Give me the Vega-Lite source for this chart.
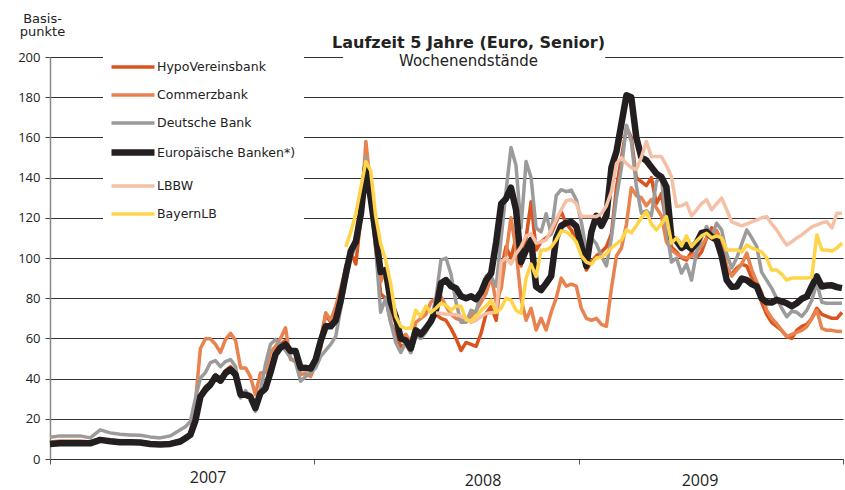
{
 "$schema": "https://vega.github.io/schema/vega-lite/v6.json",
 "width": 793,
 "height": 402,
 "autosize": {"type": "none"},
 "padding": {"left": 50, "top": 57, "right": 2, "bottom": 31},
 "background": "white",
 "title": {"text": "Laufzeit 5 Jahre (Euro, Senior)", "subtitle": "Wochenendstände", "anchor": "middle", "frame": "group", "dx": 22, "offset": -57, "font": "DejaVu Sans", "fontSize": 16, "fontWeight": "bold", "color": "#222", "subtitleFont": "DejaVu Sans", "subtitleFontSize": 15, "subtitleColor": "#222", "subtitlePadding": 3},
 "config": {
  "view": {"stroke": null},
  "font": "DejaVu Sans",
  "legend": {"orient": "none", "legendX": 53, "legendY": -18.5, "fillColor": "white", "padding": 8, "symbolType": "M-1.147,0H1.147", "symbolSize": 1406, "labelFont": "DejaVu Sans", "labelFontSize": 12.5, "labelColor": "#222", "labelOffset": 2, "rowPadding": 0}
 },
 "datasets": {
  "wide": [
   {"t":2007.000,"H":8,"C":8.5,"D":10.8,"E":7.5},
   {"t":2007.038,"H":8.5,"C":9,"D":11.5,"E":7.8},
   {"t":2007.076,"H":8.5,"C":9,"D":11.5,"E":7.8},
   {"t":2007.114,"H":8.5,"C":9,"D":11.5,"E":7.8},
   {"t":2007.152,"H":8.2,"C":8.5,"D":10.5,"E":7.8},
   {"t":2007.190,"H":9.5,"C":10,"D":14.5,"E":9.5},
   {"t":2007.228,"H":9,"C":9.3,"D":13,"E":8.8},
   {"t":2007.265,"H":8.5,"C":9,"D":12.3,"E":8.3},
   {"t":2007.303,"H":8.5,"C":8.8,"D":12,"E":8.3},
   {"t":2007.341,"H":8,"C":8.5,"D":11.8,"E":8.2},
   {"t":2007.379,"H":7.2,"C":7.8,"D":11,"E":7.5},
   {"t":2007.417,"H":7,"C":7.5,"D":10.5,"E":7.2},
   {"t":2007.455,"H":7.3,"C":8,"D":11.5,"E":7.5},
   {"t":2007.493,"H":8.5,"C":9.5,"D":14.5,"E":8.7},
   {"t":2007.512,"H":10,"C":10,"D":16,"E":10.3},
   {"t":2007.531,"H":12.5,"C":13,"D":18.7,"E":12},
   {"t":2007.550,"H":22,"C":28,"D":30,"E":19},
   {"t":2007.569,"H":32,"C":55,"D":40.3,"E":31},
   {"t":2007.588,"H":36,"C":59.8,"D":43,"E":34.5},
   {"t":2007.607,"H":38,"C":59.8,"D":48,"E":37},
   {"t":2007.626,"H":42,"C":57,"D":49,"E":41},
   {"t":2007.645,"H":40,"C":53,"D":46,"E":39},
   {"t":2007.664,"H":44,"C":59.5,"D":48.5,"E":42.8},
   {"t":2007.683,"H":46,"C":62.5,"D":49.5,"E":44.5},
   {"t":2007.702,"H":43,"C":59,"D":46,"E":42},
   {"t":2007.721,"H":33,"C":45.3,"D":30.3,"E":32},
   {"t":2007.740,"H":33,"C":45.3,"D":34,"E":32},
   {"t":2007.758,"H":32,"C":41,"D":30,"E":31},
   {"t":2007.777,"H":27,"C":32,"D":23.7,"E":25.3},
   {"t":2007.796,"H":34,"C":42.8,"D":34,"E":32.8},
   {"t":2007.815,"H":37,"C":43,"D":47,"E":35},
   {"t":2007.834,"H":45,"C":53,"D":57,"E":43},
   {"t":2007.853,"H":53,"C":56,"D":59.5,"E":52},
   {"t":2007.872,"H":57,"C":60,"D":56.5,"E":55.5},
   {"t":2007.891,"H":59,"C":65.3,"D":54,"E":57},
   {"t":2007.910,"H":54,"C":49.5,"D":50.3,"E":53.7},
   {"t":2007.929,"H":54,"C":49,"D":48,"E":53.7},
   {"t":2007.948,"H":46,"C":42,"D":38.7,"E":45.3},
   {"t":2007.967,"H":46,"C":42.5,"D":41,"E":45.3},
   {"t":2007.986,"H":45,"C":41,"D":43,"E":45},
   {"t":2008.005,"H":50,"C":47,"D":45.3,"E":49.5},
   {"t":2008.024,"H":60,"C":55,"D":51,"E":58.7},
   {"t":2008.043,"H":72,"C":72.8,"D":54,"E":66},
   {"t":2008.062,"H":68,"C":69,"D":57,"E":66},
   {"t":2008.081,"H":72,"C":76,"D":61,"E":69},
   {"t":2008.100,"H":82,"C":85,"D":75,"E":79},
   {"t":2008.119,"H":96,"C":95,"D":88,"E":92,"B":105.5},
   {"t":2008.138,"H":103,"C":105,"D":100,"E":103.5,"B":113},
   {"t":2008.157,"H":97,"C":110,"D":106,"E":108,"B":122},
   {"t":2008.176,"H":120,"C":120,"D":125,"E":122,"B":135},
   {"t":2008.195,"H":140,"C":158,"D":150,"E":145,"B":148},
   {"t":2008.213,"H":128,"C":135,"D":138,"E":130,"B":143.5},
   {"t":2008.232,"H":105,"C":110,"D":105,"E":112,"B":121},
   {"t":2008.251,"H":82,"C":88,"D":73,"E":93,"B":107},
   {"t":2008.270,"H":80,"C":95,"D":80,"E":94,"B":99},
   {"t":2008.289,"H":68,"C":72,"D":68,"E":78,"B":87},
   {"t":2008.308,"H":62,"C":68,"D":58,"E":70.8,"B":71},
   {"t":2008.327,"H":56,"C":60,"D":53,"E":60,"B":66},
   {"t":2008.346,"H":57,"C":62,"D":58,"E":59,"B":65},
   {"t":2008.365,"H":53,"C":58,"D":53,"E":55,"B":65},
   {"t":2008.384,"H":62,"C":68,"D":61,"E":64,"B":74},
   {"t":2008.403,"H":60,"C":70,"D":60,"E":62,"B":71},
   {"t":2008.422,"H":65,"C":72,"D":63,"E":65,"B":76},
   {"t":2008.441,"H":70,"C":78,"D":69,"E":68.5,"B":73},
   {"t":2008.460,"H":72,"C":80,"D":80,"E":74,"L":72.7,"B":75},
   {"t":2008.479,"H":70,"C":81,"D":99,"E":87.4,"L":72.5,"B":77.5},
   {"t":2008.498,"H":69,"C":76,"D":100,"E":89,"L":72,"B":76.5},
   {"t":2008.517,"H":65,"C":72,"D":92,"E":86,"L":72,"B":74},
   {"t":2008.536,"H":60,"C":70,"D":78,"E":85,"L":71.8,"B":76},
   {"t":2008.555,"H":54,"C":69,"D":68,"E":81,"L":71,"B":76},
   {"t":2008.574,"H":58,"C":69,"D":68,"E":80,"L":70,"B":69.2},
   {"t":2008.593,"H":57,"C":71,"D":74,"E":81,"L":68,"B":68.5},
   {"t":2008.612,"H":56,"C":74,"D":73,"E":79.5,"L":69,"B":71},
   {"t":2008.631,"H":62.6,"C":78,"D":84,"E":83,"L":71,"B":74},
   {"t":2008.650,"H":72.5,"C":82.4,"D":91,"E":89,"L":72.4,"B":76},
   {"t":2008.669,"H":75.8,"C":91,"D":90.7,"E":92.4,"L":72.8,"B":79},
   {"t":2008.688,"H":69,"C":78,"D":86,"E":108,"L":73,"B":73},
   {"t":2008.707,"H":94,"C":85,"D":110,"E":127,"L":98,"B":75},
   {"t":2008.725,"H":105.6,"C":102,"D":133,"E":129.5,"L":100,"B":80},
   {"t":2008.744,"H":100,"C":120,"D":155,"E":135,"L":97,"B":79},
   {"t":2008.763,"H":110,"C":104,"D":146,"E":124,"L":102,"B":74},
   {"t":2008.782,"H":96,"C":80,"D":115,"E":98,"L":105.6,"B":72.5},
   {"t":2008.801,"H":110,"C":69,"D":148,"E":104,"L":111,"B":90},
   {"t":2008.820,"H":128,"C":75,"D":140,"E":109,"L":112,"B":97},
   {"t":2008.839,"H":104,"C":64.2,"D":115,"E":85.8,"L":107.5,"B":90.7},
   {"t":2008.858,"H":108,"C":70,"D":113,"E":84,"L":108,"B":104},
   {"t":2008.877,"H":110,"C":64.2,"D":122,"E":87.4,"L":109,"B":104},
   {"t":2008.896,"H":112,"C":73,"D":112,"E":91,"L":114,"B":105.5},
   {"t":2008.915,"H":118,"C":80,"D":131,"E":110,"L":119,"B":109},
   {"t":2008.934,"H":123,"C":90,"D":134,"E":116,"L":124,"B":113.5},
   {"t":2008.953,"H":117,"C":86,"D":133,"E":117.5,"L":128.5,"B":113},
   {"t":2008.972,"H":114,"C":87,"D":133.8,"E":118,"L":129,"B":111},
   {"t":2008.991,"H":109,"C":86,"D":129,"E":115.8,"L":127,"B":108},
   {"t":2009.010,"H":105,"C":75,"D":118,"E":106,"L":120.6,"B":101},
   {"t":2009.029,"H":94,"C":70,"D":104,"E":96,"L":120.6,"B":98},
   {"t":2009.048,"H":98,"C":69,"D":110,"E":113,"L":120.6,"B":97},
   {"t":2009.067,"H":101,"C":70,"D":107,"E":121,"L":120.6,"B":100},
   {"t":2009.086,"H":103,"C":67,"D":101,"E":116,"L":122,"B":100.5},
   {"t":2009.105,"H":105.6,"C":66,"D":96,"E":121,"L":126,"B":102},
   {"t":2009.124,"H":112,"C":85,"D":110,"E":145,"L":133,"B":105},
   {"t":2009.143,"H":135,"C":101,"D":130,"E":153,"L":147,"B":107},
   {"t":2009.162,"H":150,"C":105,"D":145,"E":167,"L":150,"B":109},
   {"t":2009.181,"H":165,"C":117,"D":166,"E":181,"L":147,"B":114},
   {"t":2009.199,"H":160,"C":135,"D":158,"E":180,"L":145,"B":112.5},
   {"t":2009.218,"H":140,"C":131,"D":136,"E":160,"L":144,"B":116},
   {"t":2009.237,"H":138,"C":130,"D":122.3,"E":150.2,"L":150,"B":120},
   {"t":2009.256,"H":136,"C":126,"D":123.5,"E":148.5,"L":158,"B":123},
   {"t":2009.275,"H":140,"C":129,"D":121,"E":145.2,"L":150.5,"B":117},
   {"t":2009.294,"H":127,"C":125,"D":138,"E":142,"L":150.5,"B":114},
   {"t":2009.313,"H":132,"C":121,"D":140,"E":140.3,"L":150.5,"B":117},
   {"t":2009.332,"H":117,"C":108,"D":115,"E":135.3,"L":146,"B":120.6},
   {"t":2009.351,"H":105.5,"C":104,"D":98,"E":110,"L":140.5,"B":107.4},
   {"t":2009.370,"H":103,"C":102,"D":100,"E":108.5,"L":125.6,"B":110},
   {"t":2009.389,"H":100,"C":100.7,"D":92.5,"E":105,"L":126,"B":106},
   {"t":2009.408,"H":99,"C":100,"D":97,"E":106.5,"L":127.3,"B":111},
   {"t":2009.427,"H":103,"C":100.7,"D":89,"E":104.5,"L":121,"B":105.7},
   {"t":2009.446,"H":100,"C":103,"D":103,"E":107.5,"L":124,"B":108.5},
   {"t":2009.465,"H":103,"C":106,"D":110,"E":112.5,"L":127,"B":111},
   {"t":2009.484,"H":110,"C":110,"D":115.7,"E":113,"L":129,"B":112.3},
   {"t":2009.503,"H":115,"C":112,"D":110.7,"E":110.5,"L":124,"B":110},
   {"t":2009.522,"H":110,"C":113.7,"D":117.3,"E":109,"L":127,"B":111},
   {"t":2009.541,"H":100,"C":108,"D":114,"E":101,"L":129.8,"B":110},
   {"t":2009.560,"H":93,"C":96,"D":102,"E":89,"L":124,"B":104},
   {"t":2009.579,"H":92,"C":91,"D":95,"E":85.7,"L":118,"B":104},
   {"t":2009.598,"H":95,"C":94,"D":100,"E":85.8,"L":117,"B":104},
   {"t":2009.617,"H":97,"C":97,"D":107,"E":89.8,"L":116,"B":103},
   {"t":2009.636,"H":96,"C":102.4,"D":114,"E":89,"L":117,"B":106.5},
   {"t":2009.655,"H":90,"C":94,"D":110,"E":87,"L":118,"B":105},
   {"t":2009.674,"H":86,"C":88,"D":105.7,"E":85.8,"L":119,"B":104},
   {"t":2009.692,"H":78,"C":83,"D":93,"E":80,"L":120,"B":103},
   {"t":2009.711,"H":72,"C":74,"D":89,"E":78,"L":120.6,"B":100},
   {"t":2009.730,"H":68,"C":70,"D":85,"E":77.8,"L":117,"B":94},
   {"t":2009.749,"H":66,"C":67.4,"D":80,"E":79.2,"L":114,"B":94},
   {"t":2009.768,"H":64,"C":64,"D":75,"E":78.4,"L":110,"B":92},
   {"t":2009.787,"H":61,"C":60.8,"D":70.8,"E":77.5,"L":106.5,"B":89},
   {"t":2009.806,"H":60,"C":62,"D":73.5,"E":76,"L":108,"B":90},
   {"t":2009.825,"H":64,"C":63,"D":73,"E":77.5,"L":110,"B":90},
   {"t":2009.844,"H":66,"C":64,"D":71,"E":79.7,"L":111.5,"B":90},
   {"t":2009.863,"H":67,"C":65.9,"D":74,"E":80.8,"L":113.5,"B":90},
   {"t":2009.882,"H":70,"C":70,"D":79,"E":86,"L":115.5,"B":90.5},
   {"t":2009.901,"H":75,"C":74,"D":87.5,"E":90.8,"L":116.5,"B":111.5},
   {"t":2009.920,"H":72,"C":65,"D":78,"E":85.8,"L":117.5,"B":104},
   {"t":2009.939,"H":71,"C":64,"D":77.5,"E":86.3,"L":118,"B":104},
   {"t":2009.958,"H":70,"C":64,"D":77.5,"E":86.4,"L":115,"B":103.5},
   {"t":2009.977,"H":70,"C":63.5,"D":77.5,"E":85.5,"L":122.3,"B":105},
   {"t":2009.996,"H":73,"C":63.4,"D":77.5,"E":85,"L":122.3,"B":107.4}
  ]
 },
 "layer": [
  {
   "data": {"name": "wide"},
   "transform": [
    {"fold": ["H", "C", "D", "E", "L", "B"], "as": ["k", "v"]},
    {"filter": "isValid(datum.v)"}
   ],
   "encoding": {
    "x": {"field": "t", "type": "quantitative", "title": null,
     "scale": {"domain": [2007, 2010], "nice": false, "zero": false},
     "axis": {"values": [2007, 2008, 2009, 2010], "labels": false, "ticks": true, "tickSize": 5, "tickColor": "#555", "domain": true, "domainColor": "#333", "grid": false, "title": null}},
    "y": {"field": "v", "type": "quantitative",
     "scale": {"domain": [0, 200], "nice": false},
     "axis": {"values": [0, 20, 40, 60, 80, 100, 120, 140, 160, 180, 200], "labelFont": "Open Sans", "labelFontSize": 13, "labelColor": "#222", "labelPadding": 5, "tickSize": 5, "tickColor": "#444", "domainColor": "#888", "domainWidth": 1.5, "grid": true, "gridColor": "#333", "gridWidth": 1,
      "title": ["Basis-", "punkte"], "titleAngle": 0, "titleAlign": "center", "titleBaseline": "alphabetic", "titleX": -8, "titleY": -35, "titleFont": "DejaVu Sans", "titleFontSize": 13, "titleFontWeight": "normal", "titleColor": "#222", "titleLineHeight": 13.5}},
    "color": {"field": "k", "type": "ordinal",
     "scale": {"type": "ordinal", "domain": ["H", "C", "D", "E", "L", "B"], "range": ["#DA5420", "#E8824F", "#9B9B9B", "#231F20", "#F5C1A6", "#FFD448"]},
     "legend": {"title": null, "labelExpr": "{'H':'HypoVereinsbank','C':'Commerzbank','D':'Deutsche Bank','E':'Europäische Banken*)','L':'LBBW','B':'BayernLB'}[datum.label]"}},
    "strokeWidth": {"field": "k", "type": "ordinal",
     "scale": {"type": "ordinal", "domain": ["H", "C", "D", "E", "L", "B"], "range": [3.5, 3.5, 3.5, 6.5, 3.5, 3.5]},
     "legend": {"title": null, "labelExpr": "{'H':'HypoVereinsbank','C':'Commerzbank','D':'Deutsche Bank','E':'Europäische Banken*)','L':'LBBW','B':'BayernLB'}[datum.label]"}}
   },
   "layer": [
    {"transform": [{"filter": "datum.k == 'H'"}], "mark": {"type": "line", "strokeJoin": "round"}},
    {"transform": [{"filter": "datum.k == 'C'"}], "mark": {"type": "line", "strokeJoin": "round"}},
    {"transform": [{"filter": "datum.k == 'D'"}], "mark": {"type": "line", "strokeJoin": "round"}},
    {"transform": [{"filter": "datum.k == 'E'"}], "mark": {"type": "line", "strokeJoin": "round"}},
    {"transform": [{"filter": "datum.k == 'L'"}], "mark": {"type": "line", "strokeJoin": "round"}},
    {"transform": [{"filter": "datum.k == 'B'"}], "mark": {"type": "line", "strokeJoin": "round"}}
   ]
  },
  {
   "data": {"values": [{}]},
   "mark": {"type": "rect", "color": "white"},
   "encoding": {
    "x": {"datum": 2008.109, "type": "quantitative"},
    "x2": {"datum": 2009.1},
    "y": {"datum": 197.5, "type": "quantitative"},
    "y2": {"datum": 205}
   }
  },
  {
   "data": {"values": [{"t": 2007.598, "year": "2007"}]},
   "mark": {"type": "text", "baseline": "alphabetic", "dy": 24, "font": "Open Sans", "fontSize": 16, "color": "#222"},
   "encoding": {
    "x": {"field": "t", "type": "quantitative", "title": null},
    "y": {"datum": 0, "type": "quantitative"},
    "text": {"field": "year"}
   }
  },
  {
   "data": {"values": [{"t": 2008.638, "year": "2008"}, {"t": 2009.459, "year": "2009"}]},
   "mark": {"type": "text", "baseline": "alphabetic", "dy": 27, "font": "Open Sans", "fontSize": 16, "color": "#222"},
   "encoding": {
    "x": {"field": "t", "type": "quantitative", "title": null},
    "y": {"datum": 0, "type": "quantitative"},
    "text": {"field": "year"}
   }
  }
 ]
}
